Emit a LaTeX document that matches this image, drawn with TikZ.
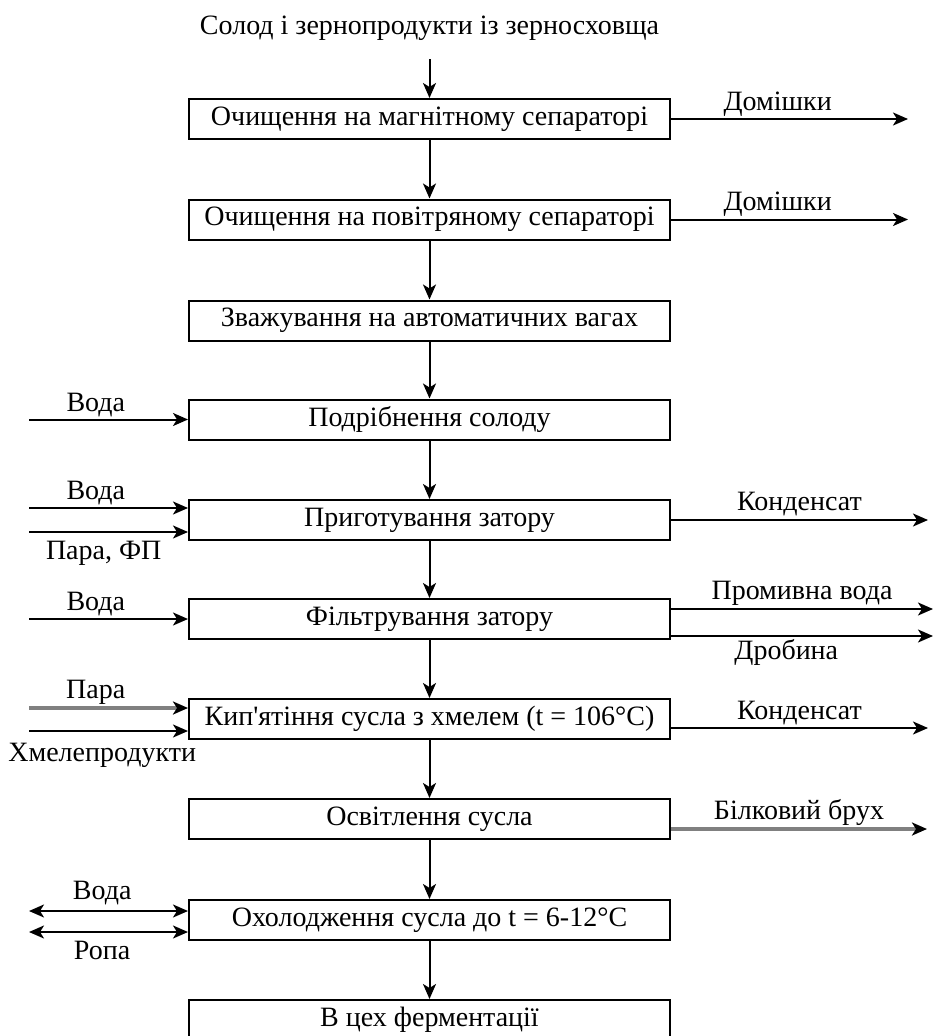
\documentclass[tikz,border=0pt]{standalone}
\usepackage{fontspec}
\setmainfont{Liberation Serif}
\usetikzlibrary{positioning,arrows.meta}

\begin{document}
\begin{tikzpicture}[
    x=1pt, y=-1pt,
    stage/.style={draw, line width=2pt, rectangle, minimum width=481pt, minimum height=40pt, inner sep=0pt, font=\fontsize{28}{32}\selectfont},
    lbl/.style={font=\fontsize{28}{32}\selectfont, inner sep=2pt},
    flow/.style={line width=2pt, -{Stealth[length=15pt, width=13pt, inset=4pt]}},
    both/.style={line width=2pt, {Stealth[length=15pt, width=13pt, inset=4pt]}-{Stealth[length=15pt, width=13pt, inset=4pt]}},
    steam/.style={draw=gray, line width=3.5pt, -{Stealth[length=15pt, width=13pt, inset=4pt, black]}}
]
    \useasboundingbox (0,0) rectangle (934,1036);
    \clip (0,0) rectangle (934,1036);

    % Stages
    \foreach \i/\y/\txt in {
        1/119/{Очищення на магнітному сепараторі},
        2/219.5/{Очищення на повітряному сепараторі},
        3/320.5/{Зважування на автоматичних вагах},
        4/419.5/{Подрібнення солоду},
        5/520/{Приготування затору},
        6/619/{Фільтрування затору},
        7/719/{Кип\textquotesingle ятіння сусла з хмелем (t = 106°C)},
        8/819/{Освітлення сусла},
        9/920/{Охолодження сусла до t = 6-12°C},
        10/1020/{В цех ферментації}} {
        \node [stage] (s\i) at (429.5,\y) {\txt};
    }

    \node [lbl] (src) at (429.5,28) {Солод і зернопродукти із зерносховща};
    \draw [flow, shorten <=17pt] (src) -- (s1);
    \foreach \i/\j in {1/2,2/3,3/4,4/5,5/6,6/7,7/8,8/9,9/10}
        \draw [flow] (s\i) -- (s\j);

    % Outputs right
    \coordinate (o1) at (908,119);
    \coordinate (o2) at (908,219.5);
    \coordinate (o5) at (928,520);
    \coordinate (o6a) at (933,609);
    \coordinate (o6b) at (933,636);
    \coordinate (o7) at (928,728);
    \coordinate (o8) at (927,829);

    \draw [flow] (s1.east) -- (o1) node [lbl, pos=0.45, above] (r1) {Домішки};
    \draw [flow] (s2.east) -- (o2) node [lbl, pos=0.45, above] (r2) {Домішки};
    \draw [flow] (s5.east) -- (o5) node [lbl, midway, above=1pt] (r5) {Конденсат};
    \draw [flow] (s6.east |- o6a) -- (o6a) node [lbl, midway, above=1pt] (r6a) {Промивна вода};
    \draw [flow] (s6.east |- o6b) -- (o6b) node [lbl, pos=0.44, below] (r6b) {Дробина};
    \draw [flow] (s7.east |- o7) -- (o7) node [lbl, midway, above] (r7) {Конденсат};
    \draw [steam] (s8.east |- o8) -- (o8) node [lbl, midway, above] (r8) {Білковий брух};

    % Inputs left
    \coordinate (i4) at (29,419.5);
    \coordinate (i5a) at (29,508);
    \coordinate (i5b) at (29,532);
    \coordinate (i6) at (29,619);
    \coordinate (i7a) at (29,708);
    \coordinate (i7b) at (29,731);
    \coordinate (i9a) at (29,911);
    \coordinate (i9b) at (29,932);

    \draw [flow] (i4) -- (s4.west) node [lbl, pos=0.42, above] (l4) {Вода};
    \draw [flow] (i5a) -- (s5.west |- i5a) node [lbl, pos=0.42, above] (l5a) {Вода};
    \draw [flow] (i5b) -- (s5.west |- i5b) node [lbl, pos=0.47, below=6pt] (l5b) {Пара, ФП};
    \draw [flow] (i6) -- (s6.west) node [lbl, pos=0.42, above] (l6) {Вода};
    \draw [steam] (i7a) -- (s7.west |- i7a) node [lbl, pos=0.42, above] (l7a) {Пара};
    \draw [flow] (i7b) -- (s7.west |- i7b) node [lbl, pos=0.46, below=9pt] (l7b) {Хмелепродукти};
    \draw [both] (i9a) -- (s9.west |- i9a) node [lbl, pos=0.46, above=3pt] (l9a) {Вода};
    \draw [both] (i9b) -- (s9.west |- i9b) node [lbl, pos=0.46, below=6pt] (l9b) {Ропа};
\end{tikzpicture}
\end{document}
